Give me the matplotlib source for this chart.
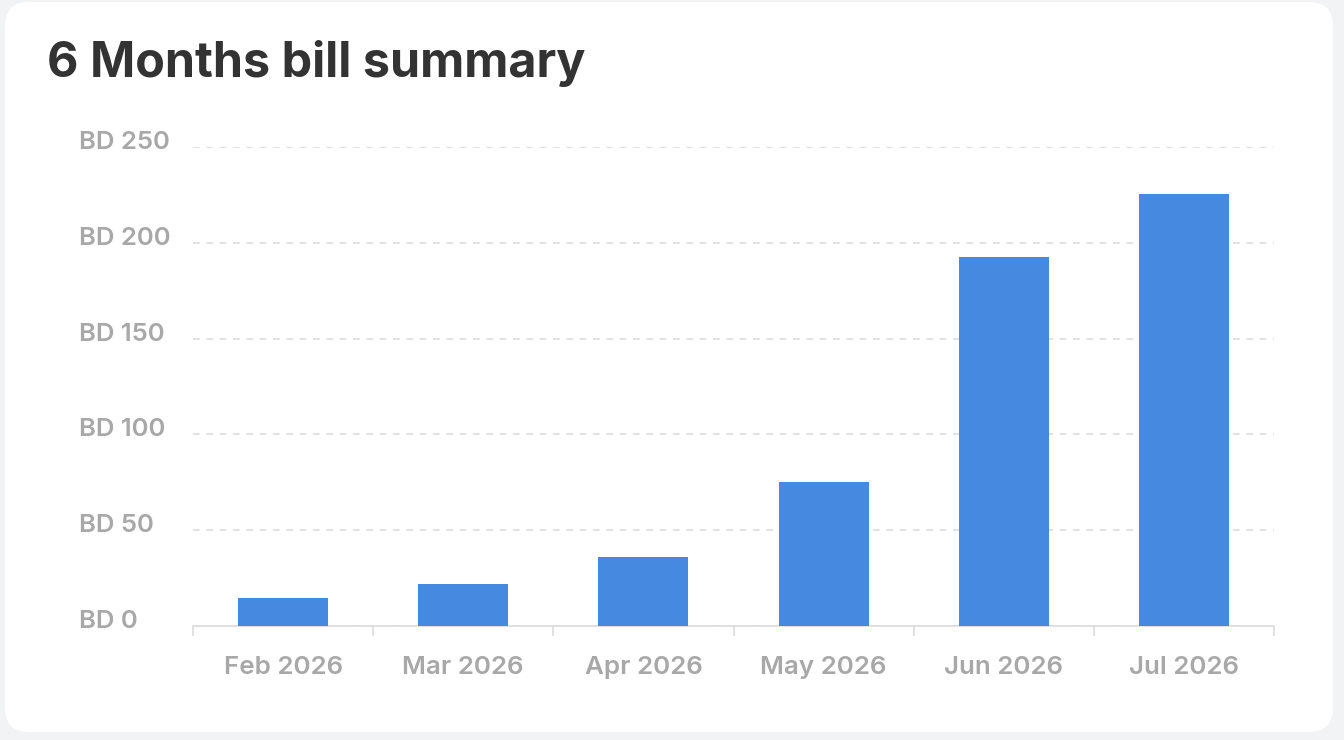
import matplotlib
matplotlib.use("Agg")
import matplotlib.pyplot as plt
import matplotlib.transforms as mtransforms
from matplotlib.patches import FancyBboxPatch

plt.rcParams['font.family'] = ['Inter', 'DejaVu Sans']

# data
months = ["Feb 2026", "Mar 2026", "Apr 2026", "May 2026", "Jun 2026", "Jul 2026"]
bills = [14.5, 22, 36, 75, 192.5, 225.5]
y_ticks = [0, 50, 100, 150, 200, 250]
y_labels = ["BD 0", "BD 50", "BD 100", "BD 150", "BD 200", "BD 250"]

W, H = 1344, 740
fig = plt.figure(figsize=(W / 100, H / 100), dpi=100)
fig.patch.set_facecolor("#F2F3F5")

# white card behind the chart
card = FancyBboxPatch((5 / W, 8 / H), 1328 / W, 730 / H,
                      boxstyle="round,pad=0,rounding_size=0.018",
                      transform=fig.transFigure, facecolor="white",
                      edgecolor="none", mutation_aspect=W / H, zorder=-5)
fig.patches.append(card)

fig.text(47 / W, 1 - 77 / H, "6 Months bill summary", fontsize=34.9,
         fontweight="bold", color="#333333", va="baseline", ha="left")

ax = fig.add_axes([193 / W, 1 - 626 / H, (1274 - 193) / W, (626 - 147) / H])
ax.set_facecolor("none")
ax.set_zorder(2)

x = list(range(len(months)))
ax.bar(x, bills, width=0.5, color="#458AE0", zorder=3)

ax.set_xlim(-0.5, len(months) - 0.5)
ax.set_ylim(0, 250)

for s in ["top", "right", "left"]:
    ax.spines[s].set_visible(False)
ax.spines["bottom"].set_color("#DCDCDC")
ax.spines["bottom"].set_linewidth(1.2)

ax.yaxis.grid(True, linestyle=(0, (4, 4)), color="#DDDDDD", linewidth=1.2, zorder=1)
ax.set_axisbelow(True)

ax.set_yticks(y_ticks)
ax.set_yticklabels(y_labels)
ax.tick_params(axis="y", length=0, pad=82, labelsize=18.5, labelcolor="#A8A8A8")
offset = mtransforms.ScaledTranslation(0, 7 / 100, fig.dpi_scale_trans)
for lab in ax.get_yticklabels():
    lab.set_horizontalalignment("left")
    lab.set_fontweight("semibold")
    lab.set_transform(lab.get_transform() + offset)

ax.set_xticks(x)
ax.set_xticklabels(months)
ax.set_xticks([i - 0.5 for i in range(len(months) + 1)], minor=True)
ax.tick_params(axis="x", which="major", length=0, pad=21.5, labelsize=18.7,
               labelcolor="#A8A8A8")
ax.tick_params(axis="x", which="minor", length=7.5, width=1.2, color="#DCDCDC")
for lab in ax.get_xticklabels():
    lab.set_fontweight("semibold")

fig.savefig("out.png", dpi=100, facecolor=fig.get_facecolor())
